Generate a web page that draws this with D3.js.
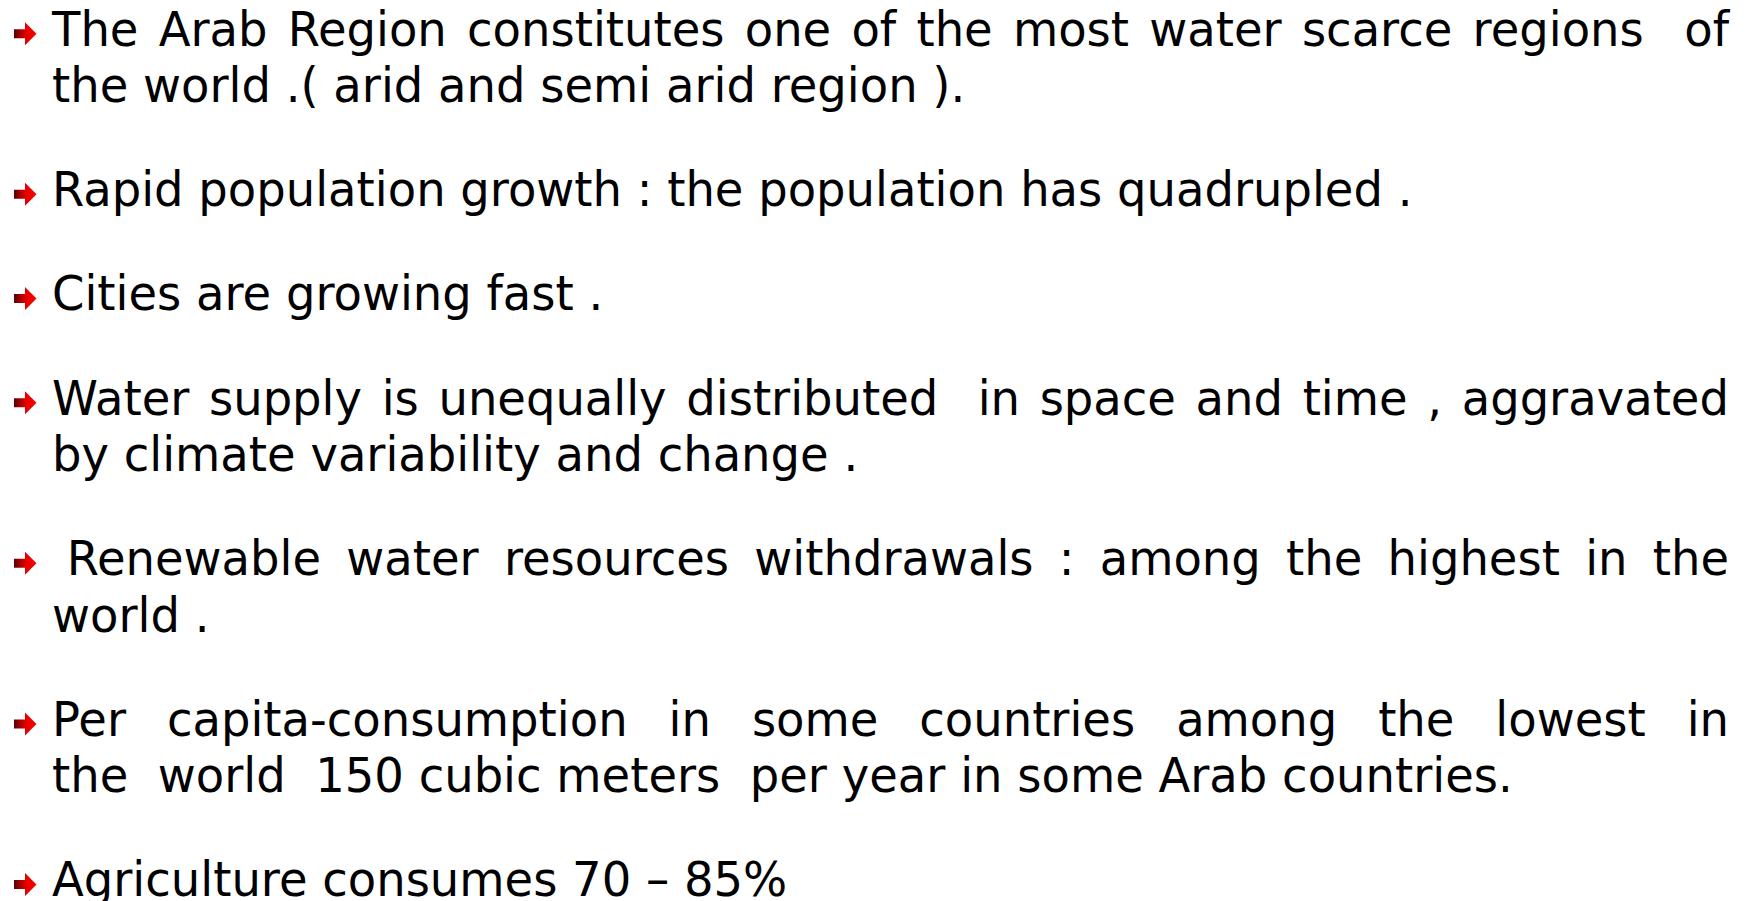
<!DOCTYPE html>
<html>
<head>
<meta charset="utf-8">
<script src="https://cdn.jsdelivr.net/npm/d3@7"></script>
<style>
html, body { margin: 0; padding: 0; background: #fff; overflow: hidden; }
</style>
</head>
<body>
<div class="slide"></div>
<script>
/* bullet points, one array per bullet, one string per line as it breaks on the slide */
const bulletLines = [
	[ "The Arab Region constitutes one of the most water scarce regions  of",
	  "the world .( arid and semi arid region )." ],
	[ "Rapid population growth : the population has quadrupled ." ],
	[ "Cities are growing fast ." ],
	[ "Water supply is unequally distributed  in space and time , aggravated",
	  "by climate variability and change ." ],
	[ " Renewable water resources withdrawals : among the highest in the",
	  "world ." ],
	[ "Per capita-consumption in some countries among the lowest in",
	  "the  world  150 cubic meters  per year in some Arab countries." ],
	[ "Agriculture consumes 70 – 85%" ]
];

/* layout of the slide */
var dims = { width: 1752, height: 901 };
var textLeft = 52, textRight = 1729;
var firstBaseline = 45.5, lineStep = 56.4, paraGap = 47.8;
var fontSize = 48.5, squeeze = 0.958;
var fontFamily = "'DejaVu Sans', Verdana, sans-serif";

var svg = d3.select( ".slide" )
			.append( "svg" )
			.attr( "width", dims.width )
			.attr( "height", dims.height );

//gradient for the little arrows
var grad = svg.append( "defs" ).append( "linearGradient" )
			.attr( "id", "arrowGrad" )
			.attr( "x1", "0%" ).attr( "x2", "100%" )
			.attr( "y1", "0%" ).attr( "y2", "0%" );
grad.append( "stop" ).attr( "offset", "0%" ).attr( "stop-color", "#5a0000" );
grad.append( "stop" ).attr( "offset", "50%" ).attr( "stop-color", "#e00000" );
grad.append( "stop" ).attr( "offset", "100%" ).attr( "stop-color", "#ff0000" );

//flatten lines, keeping line and bullet index
var rows = [];
var lineNo = 0;
bulletLines.forEach( function( lines, p ){
	lines.forEach( function( txt, j ){
		rows.push( { text: txt, para: p, line: lineNo, first: j === 0,
					 justify: j < lines.length - 1 } );
		lineNo += 1;
	} );
} );

var yScale = function( r ){
	return firstBaseline + r.line * lineStep + r.para * paraGap;
};

//hidden text to measure words
var meter = svg.append( "text" )
			.attr( "font-family", fontFamily )
			.attr( "font-size", fontSize )
			.style( "white-space", "pre" )
			.attr( "opacity", 0 );
function measure( s ){
	meter.text( s );
	return meter.node().getComputedTextLength();
}
var spaceW = measure( "x x" ) - measure( "xx" );

//arrow bullets
var arrow = function( cx, cy ){
	var p = d3.path();
	p.moveTo( cx, cy - 4.5 );
	p.lineTo( cx + 11, cy - 4.5 );
	p.lineTo( cx + 11, cy - 11.5 );
	p.lineTo( cx + 22.5, cy );
	p.lineTo( cx + 11, cy + 11.5 );
	p.lineTo( cx + 11, cy + 4.5 );
	p.lineTo( cx, cy + 4.5 );
	p.closePath();
	return p.toString();
};

svg.selectAll( ".bullet" )
	.data( rows.filter( function( r ){ return r.first; } ) )
	.enter().append( "path" )
	.attr( "class", "bullet" )
	.attr( "d", function( r ){ return arrow( 14, yScale( r ) - 11.8 ); } )
	.attr( "fill", "url(#arrowGrad)" );

//text lines
var lineG = svg.selectAll( ".line" )
	.data( rows )
	.enter().append( "text" )
	.attr( "class", "line" )
	.attr( "font-family", fontFamily )
	.attr( "font-size", fontSize )
	.attr( "fill", "#000" )
	.style( "white-space", "pre" )
	.attr( "transform", function( r ){
		return "translate(" + textLeft + "," + yScale( r ) + ") scale(" + squeeze + ",1)";
	} );

lineG.each( function( r ){
	var t = d3.select( this );
	if( !r.justify ){
		t.text( r.text );
		return;
	}
	//justified line: spread the gaps so the line ends at the right margin
	var lead = r.text.length - r.text.replace( /^ +/, "" ).length;
	var words = r.text.replace( /^ +/, "" ).split( " " );
	var widths = words.map( function( w ){ return w === "" ? 0 : measure( w ); } );
	var avail = ( textRight - textLeft ) / squeeze - lead * spaceW;
	var gap = ( avail - d3.sum( widths ) ) / ( words.length - 1 );
	var x = lead * spaceW;
	words.forEach( function( w, i ){
		if( w !== "" ){
			t.append( "tspan" ).attr( "x", x ).attr( "y", 0 ).text( w );
		}
		x += widths[ i ] + gap;
	} );
} );

meter.remove();
</script>
</body>
</html>
